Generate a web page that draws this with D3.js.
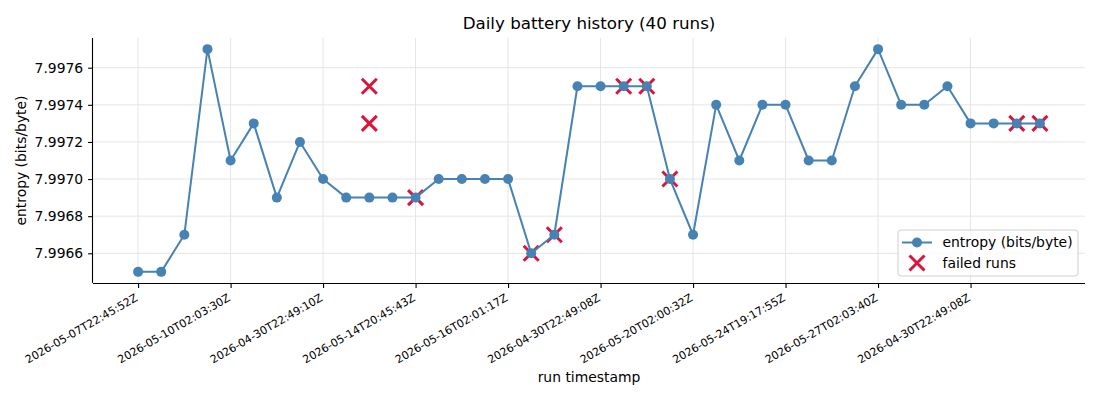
<!DOCTYPE html>
<html lang="en">
<head>
  <meta charset="UTF-8">
  <title>Daily battery history (40 runs)</title>
  <style>
  body { margin: 0; background: #fff; }
  svg, svg text { font-family: "DejaVu Sans", sans-serif; }
  .grid line { stroke: #e5e5e5; stroke-width: 1px; }
  .axis path, .axis line { stroke: #000; stroke-width: 1.1px; }
  .axis text { fill: #000; }
  </style>
</head>
<body>
<script src="https://d3js.org/d3.v7.min.js"></script>
<script>
// entropy per run, in run order
var entropy = [
  7.9965, 7.9965, 7.9967, 7.9977, 7.9971, 7.9973, 7.9969, 7.9972, 7.9970, 7.9969,
  7.9969, 7.9969, 7.9969, 7.9970, 7.9970, 7.9970, 7.9970, 7.9966, 7.9967, 7.9975,
  7.9975, 7.9975, 7.9975, 7.9970, 7.9967, 7.9974, 7.9971, 7.9974, 7.9974, 7.9971,
  7.9971, 7.9975, 7.9977, 7.9974, 7.9974, 7.9975, 7.9973, 7.9973, 7.9973, 7.9973
];

// failed runs: run index and value
var failedIndex = [10, 10, 12, 17, 18, 21, 22, 23, 38, 39];
var failedValue = [7.9975, 7.9973, 7.9969, 7.9966, 7.9967, 7.9975, 7.9975, 7.9970, 7.9973, 7.9973];

// x tick labels, every 4th run
var tickIndex = [0, 4, 8, 12, 16, 20, 24, 28, 32, 36];
var tickLabels = [
  "2026-05-07T22:45:52Z", "2026-05-10T02:03:30Z", "2026-04-30T22:49:10Z",
  "2026-05-14T20:45:43Z", "2026-05-16T02:01:17Z", "2026-04-30T22:49:08Z",
  "2026-05-20T02:00:32Z", "2026-05-24T19:17:55Z", "2026-05-27T02:03:40Z",
  "2026-04-30T22:49:08Z"
];
var yTicks = [7.9966, 7.9968, 7.9970, 7.9972, 7.9974, 7.9976];

var width = 1100, height = 400;
var padL = 93, padR = 1085, padT = 38, padB = 283;
var lineColor = "#4682b4", failColor = "#dc143c";

var svg = d3.select("body").append("svg").attr("width", width).attr("height", height);

var n = entropy.length;
var xPad = (n - 1) * 0.05;
var xScale = d3.scaleLinear().domain([-xPad, n - 1 + xPad]).range([padL, padR]);

var allVals = entropy.concat(failedValue);
var yMin = d3.min(allVals), yMax = d3.max(allVals);
var yPad = (yMax - yMin) * 0.05;
var yScale = d3.scaleLinear().domain([yMin - yPad, yMax + yPad]).range([padB, padT]);

// grid
svg.append("g").attr("class", "grid")
  .selectAll("line").data(tickIndex).enter().append("line")
  .attr("x1", function(d){ return xScale(d); }).attr("x2", function(d){ return xScale(d); })
  .attr("y1", padT).attr("y2", padB);
svg.append("g").attr("class", "grid")
  .selectAll("line").data(yTicks).enter().append("line")
  .attr("y1", function(d){ return yScale(d); }).attr("y2", function(d){ return yScale(d); })
  .attr("x1", padL).attr("x2", padR);

// axes
var axisx = d3.axisBottom(xScale).tickValues(tickIndex)
  .tickFormat(function(d, i){ return tickLabels[i]; })
  .tickSizeOuter(0).tickSize(4.9).tickPadding(4);
var gx = svg.append("g").attr("class", "axis")
  .attr("transform", "translate(0," + padB + ")")
  .call(axisx)
  .attr("font-family", "DejaVu Sans");
gx.select(".domain").attr("d", "M" + padL + ",0.5H" + padR);
gx.selectAll(".tick text")
  .attr("font-size", "11px")
  .attr("text-anchor", "end")
  .attr("y", 0).attr("dy", 0)
  .attr("transform", "translate(0,17) rotate(-30)");

var axisy = d3.axisLeft(yScale).tickValues(yTicks)
  .tickFormat(d3.format(".4f"))
  .tickSizeOuter(0).tickSize(4.9).tickPadding(4.9);
var gy = svg.append("g").attr("class", "axis")
  .attr("transform", "translate(" + padL + ",0)")
  .call(axisy)
  .attr("font-family", "DejaVu Sans");
gy.select(".domain").attr("d", "M-0.5," + padT + "V" + padB);
gy.selectAll(".tick text").attr("font-size", "13.9px");

// failed run markers (under the line)
function cross(g, size, sw) {
  g.append("path")
    .attr("d", "M" + (-size) + "," + (-size) + "L" + size + "," + size +
               "M" + (-size) + "," + size + "L" + size + "," + (-size))
    .attr("stroke", failColor).attr("stroke-width", sw).attr("fill", "none");
}
var failG = svg.append("g");
failedIndex.forEach(function(d, i){
  var g = failG.append("g")
    .attr("transform", "translate(" + xScale(d) + "," + yScale(failedValue[i]) + ")");
  cross(g, 7.5, 3);
});

// entropy line
var line = d3.line()
  .x(function(d, i){ return xScale(i); })
  .y(function(d){ return yScale(d); });
svg.append("path").datum(entropy)
  .attr("fill", "none")
  .attr("stroke", lineColor)
  .attr("stroke-width", 2)
  .attr("stroke-linejoin", "round")
  .attr("d", line);
svg.append("g").selectAll("circle").data(entropy).enter().append("circle")
  .attr("cx", function(d, i){ return xScale(i); })
  .attr("cy", function(d){ return yScale(d); })
  .attr("r", 5)
  .attr("fill", lineColor);

// title and labels
svg.append("text").attr("x", (padL + padR) / 2).attr("y", 29)
  .attr("text-anchor", "middle").attr("font-size", "16.7px")
  .text("Daily battery history (40 runs)");
svg.append("text").attr("x", (padL + padR) / 2).attr("y", 382)
  .attr("text-anchor", "middle").attr("font-size", "13.9px")
  .text("run timestamp");
svg.append("text")
  .attr("transform", "translate(26," + ((padT + padB) / 2) + ") rotate(-90)")
  .attr("text-anchor", "middle").attr("font-size", "13.9px")
  .text("entropy (bits/byte)");

// legend
var lg = svg.append("g").attr("transform", "translate(898,230)");
lg.append("rect").attr("width", 180).attr("height", 46).attr("rx", 3)
  .attr("fill", "#fff").attr("fill-opacity", 0.8)
  .attr("stroke", "#d0d0d0").attr("stroke-width", 1);
lg.append("line").attr("x1", 4).attr("x2", 34).attr("y1", 12.5).attr("y2", 12.5)
  .attr("stroke", lineColor).attr("stroke-width", 2);
lg.append("circle").attr("cx", 19).attr("cy", 12.5).attr("r", 5).attr("fill", lineColor);
lg.append("text").attr("x", 44.5).attr("y", 12.5).attr("dy", "0.35em")
  .attr("font-size", "13.9px").text("entropy (bits/byte)");
cross(lg.append("g").attr("transform", "translate(19,33)"), 7.5, 3);
lg.append("text").attr("x", 44.5).attr("y", 33).attr("dy", "0.35em")
  .attr("font-size", "13.9px").text("failed runs");
</script>
</body>
</html>
